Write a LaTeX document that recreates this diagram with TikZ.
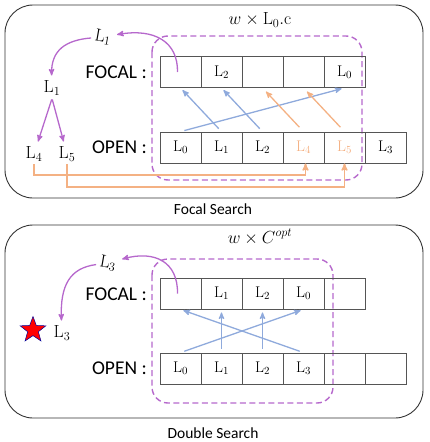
\RequirePackage{fix-cm}
\documentclass[tikz,border=0pt]{standalone}
\usepackage{amsmath, amssymb}
\usepackage{fontspec}
\setsansfont{Carlito}
\usetikzlibrary{arrows}
\usetikzlibrary{shapes}
\definecolor{purp}{RGB}{182,104,204}
\definecolor{blu}{RGB}{143,170,220}
\definecolor{orng}{RGB}{244,177,131}
\definecolor{cellgray}{RGB}{85,85,85}

\begin{document}
\begin{tikzpicture}[x = 1pt, y = -1pt]
	\tikzstyle{panelStyle} = [draw = black!80, line width = 0.9pt, rounded corners = 28pt]
	\tikzstyle{dashStyle} = [draw = purp, line width = 1.4pt, dash pattern = on 6pt off 3.5pt, rounded corners = 16pt]
	\tikzstyle{cellStyle} = [shape = rectangle, draw = cellgray, line width = 0.8pt, minimum width = 41pt, minimum height = 31pt, inner sep = 0pt, font = \fontsize{15.5}{17}\selectfont]
	\tikzstyle{rowStyle} = [anchor = east, inner sep = 1pt, font = \sffamily\fontsize{19.5}{22}\selectfont]
	\tikzstyle{labelStyle} = [inner sep = 3pt, font = \fontsize{17.5}{19}\selectfont]
	\tikzstyle{captionStyle} = [font = \sffamily\fontsize{15.5}{17}\selectfont]
	\tikzstyle{purpleArrow} = [draw = purp, line width = 1.3pt, -stealth']
	\tikzstyle{blueArrow} = [draw = blu, line width = 1.3pt, -stealth', shorten < = 4pt, shorten > = 3pt]
	\tikzstyle{orangeArrow} = [draw = orng, line width = 1.3pt, -stealth', shorten < = 6pt, shorten > = 5pt]
	\tikzstyle{orangeLine} = [draw = orng, line width = 1.5pt, -stealth']
	\useasboundingbox (0,0) rectangle (429,442);

	% Focal Search
	\draw[panelStyle] (5,5) rectangle (423,198);
	\node[captionStyle] (cap1) at (213,209) {Focal Search};
	\node[labelStyle] (title1) at (260,20) {$w \times \mathrm{L}_0.\mathrm{c}$};
	\draw[dashStyle] (152,36) rectangle (362,180);
	\node[rowStyle] (focal1) at (148,72) {FOCAL :};
	\node[rowStyle] (open1) at (148,147) {OPEN :};
	\node[cellStyle] (tf1) at (180.5,72) {};
	\node[cellStyle] (tf2) at (221.5,72) {$\mathrm{L}_2$};
	\node[cellStyle] (tf3) at (262.5,72) {};
	\node[cellStyle] (tf4) at (303.5,72) {};
	\node[cellStyle] (tf5) at (344.5,72) {$\mathrm{L}_0$};
	\node[cellStyle] (to1) at (180.5,147.5) {$\mathrm{L}_0$};
	\node[cellStyle] (to2) at (221.5,147.5) {$\mathrm{L}_1$};
	\node[cellStyle] (to3) at (262.5,147.5) {$\mathrm{L}_2$};
	\node[cellStyle, text = orng] (to4) at (303.5,147.5) {$\mathrm{L}_4$};
	\node[cellStyle, text = orng] (to5) at (344.5,147.5) {$\mathrm{L}_5$};
	\node[cellStyle] (to6) at (385.5,147.5) {$\mathrm{L}_3$};
	\draw[blueArrow] (to2.north) -- (tf1.south);
	\draw[blueArrow] (to3.north) -- (tf2.south);
	\draw[blueArrow] (to1.north) -- (tf5.south);
	\draw[orangeArrow] (to4.north) -- (tf3.south);
	\draw[orangeArrow] (to5.north) -- (tf4.south);
	\node[labelStyle, rotate = -10] (tl1) at (103,37) {$\mathrm{L}_1$};
	\node[labelStyle] (tn1) at (52,88) {$\mathrm{L}_1$};
	\node[labelStyle] (tn4) at (34,154) {$\mathrm{L}_4$};
	\node[labelStyle] (tn5) at (67,154) {$\mathrm{L}_5$};
	\draw[purpleArrow, shorten > = 2pt] ([xshift = -3pt]tf1.center) .. controls (178,42) and (155,28) .. (tl1);
	\draw[purpleArrow, shorten > = 2pt] (tl1) .. controls (66,40) and (51,50) .. (tn1);
	\draw[purpleArrow, shorten < = 1pt, shorten > = 2pt] (tn1.south) -- (tn4);
	\draw[purpleArrow, shorten < = 1pt, shorten > = 2pt] (tn1.south) -- (tn5);
	\draw[orangeLine] (tn4.south) -- (tn4.south |- 0,175) -| ([xshift = 2pt]to4.south);
	\draw[orangeLine] (tn5.south) -- (tn5.south |- 0,187) -| (to5.south);

	% Double Search
	\draw[panelStyle] (5,225) rectangle (423,418);
	\node[captionStyle] (cap2) at (213,433) {Double Search};
	\node[labelStyle] (title2) at (260,237) {$w \times C^{opt}$};
	\draw[dashStyle] (152,259) rectangle (333,403);
	\node[rowStyle] (focal2) at (148,294) {FOCAL :};
	\node[rowStyle] (open2) at (148,368.5) {OPEN :};
	\node[cellStyle] (bf1) at (180.5,293.5) {};
	\node[cellStyle] (bf2) at (221.5,293.5) {$\mathrm{L}_1$};
	\node[cellStyle] (bf3) at (262.5,293.5) {$\mathrm{L}_2$};
	\node[cellStyle] (bf4) at (303.5,293.5) {$\mathrm{L}_0$};
	\node[cellStyle] (bf5) at (344.5,293.5) {};
	\node[cellStyle] (bo1) at (180.5,368.5) {$\mathrm{L}_0$};
	\node[cellStyle] (bo2) at (221.5,368.5) {$\mathrm{L}_1$};
	\node[cellStyle] (bo3) at (262.5,368.5) {$\mathrm{L}_2$};
	\node[cellStyle] (bo4) at (303.5,368.5) {$\mathrm{L}_3$};
	\node[cellStyle] (bo5) at (344.5,368.5) {};
	\node[cellStyle] (bo6) at (385.5,368.5) {};
	\draw[blueArrow] (bo1.north) -- (bf4.south);
	\draw[blueArrow] (bo4.north) -- (bf1.south);
	\draw[blueArrow] (bo2.north) -- (bf2.south);
	\draw[blueArrow] (bo3.north) -- (bf3.south);
	\node[labelStyle, rotate = -10] (bl3) at (108,263) {$\mathrm{L}_3$};
	\node[shape = star, star points = 5, star point ratio = 2.4, fill = red, draw = blue!60!black, line width = 0.5pt, minimum size = 27pt, inner sep = 0pt] (goal) at (33,330) {};
	\node[labelStyle] (bn3) at (62,333) {$\mathrm{L}_3$};
	\draw[purpleArrow, shorten > = 2pt] ([xshift = -3pt]bf1.center) .. controls (178,262) and (155,250) .. (bl3);
	\draw[purpleArrow, shorten > = 2pt] (bl3) .. controls (70,268) and (60,285) .. (bn3);
\end{tikzpicture}
\end{document}
